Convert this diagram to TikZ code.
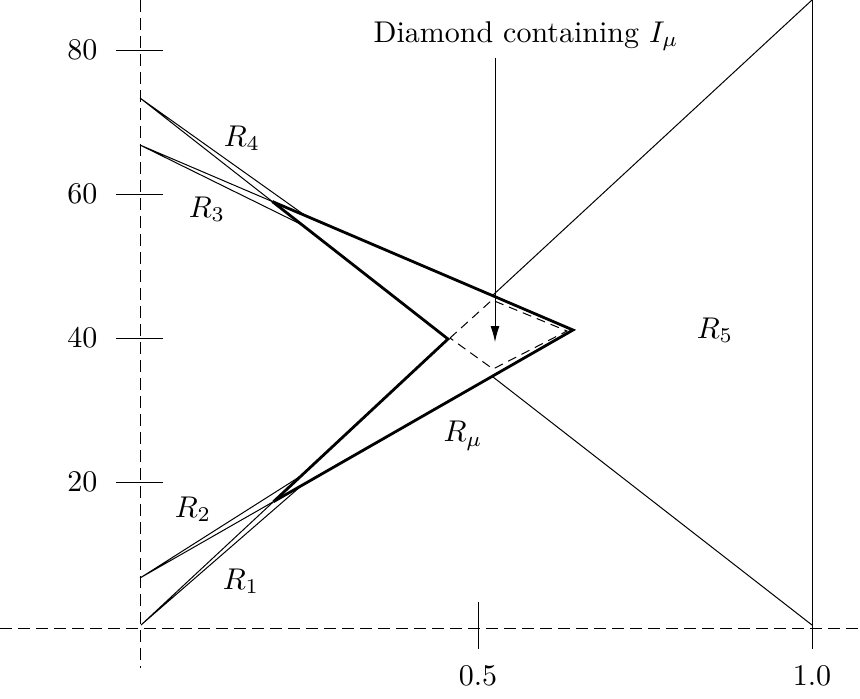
\documentclass[tikz,border=0pt]{standalone}
\usetikzlibrary{arrows.meta,calc}
\begin{document}
\begin{tikzpicture}[x=0.5pt,y=-0.5pt,
  thinline/.style={line width=0.5pt},
  boldline/.style={line width=1.4pt, line join=miter},
  axisline/.style={line width=0.5pt, dash pattern=on 6pt off 3pt},
  diamondline/.style={line width=0.5pt, dash pattern=on 4.5pt off 3pt},
  tickline/.style={line width=0.5pt},
  lbl/.style={font=\fontsize{10}{12}\selectfont, inner sep=0pt, scale=1.5, transform shape},
]
\useasboundingbox (0,0) rectangle (860,698);
% axes
\coordinate (yaxTop) at (140,0);
\coordinate (yaxBot) at (140,668);
\coordinate (xaxL) at (0,628);
\coordinate (xaxR) at (860,628);
\draw[axisline] (yaxTop) -- (yaxBot);
\draw[axisline] (xaxL) -- (xaxR);
% y ticks
\foreach \v/\y in {80/50,60/194,40/338,20/482}{
  \draw[tickline] (116,\y) -- (163,\y);
  \node[lbl,anchor=east] (ylab\v) at (98,\y) {\v};
}
% x ticks
\draw[tickline] (478,602) -- (478,649);
\draw[tickline] (812,602) -- (812,649);
\node[lbl] (xlabA) at (478,676) {0.5};
\node[lbl] (xlabB) at (812,676) {1.0};
% key points
\coordinate (A4) at (140,98);
\coordinate (A3) at (140,145);
\coordinate (A2) at (140,578);
\coordinate (A1) at (141,625);
\coordinate (Vl) at (448,339);
\coordinate (Vr) at (573,330);
\coordinate (Xu) at (intersection of A4--Vl and A3--Vr);
\coordinate (Xl) at (intersection of A1--Vl and A2--Vr);
\coordinate (R4b) at ($(Xu)!0.11!(Vr)$);
\coordinate (R3b) at ($(Xu)!0.17!(Vl)$);
\coordinate (R1b) at ($(Xl)!0.094!(Vr)$);
\coordinate (R2b) at ($(Xl)!0.16!(Vl)$);
\coordinate (T5) at ($(Xu)!0.732!(Vr)$);
\coordinate (B5) at ($(Xl)!0.73!(Vr)$);
\coordinate (P5top) at (812,0);
\coordinate (P5bot) at (812,625);
% thin wedges
\draw[thinline] (A4) -- (Xu) (A4) -- (R4b);
\draw[thinline] (A3) -- (Xu) (A3) -- (R3b);
\draw[thinline] (A1) -- (Xl) (A1) -- (R1b);
\draw[thinline] (A2) -- (Xl) (A2) -- (R2b);
% bold region
\draw[boldline] (Xu) -- (Vl) -- (Xl);
\draw[boldline] (Xu) -- (Vr) -- (Xl);
% R5
\draw[thinline] (P5top) -- (T5);
\draw[thinline] (P5bot) -- (B5);
\draw[thinline] (P5top) -- (P5bot);
% diamond
\coordinate (Dl) at (450,338);
\coordinate (Dt) at (492,300);
\coordinate (Dr) at (567,331);
\coordinate (Db) at (493,369);
\draw[diamondline] (Dl) -- (Dt) -- (Dr) -- (Db) -- cycle;
% title and arrow
\node[lbl,anchor=base west] (title) at (373,42) {Diamond containing $I_\mu$};
\coordinate (arrS) at (495,58);
\coordinate (arrE) at (495,342);
\draw[thinline,-{Latex[length=8pt,width=4.5pt]}] (arrS) -- (arrE);
% labels
\node[lbl] (labR4) at (242,138) {$R_4$};
\node[lbl] (labR3) at (207,209) {$R_3$};
\node[lbl] (labR2) at (193,509) {$R_2$};
\node[lbl] (labR1) at (241,581) {$R_1$};
\node[lbl] (labRmu) at (463,436) {$R_\mu$};
\node[lbl] (labR5) at (715,330) {$R_5$};
\end{tikzpicture}
\end{document}
